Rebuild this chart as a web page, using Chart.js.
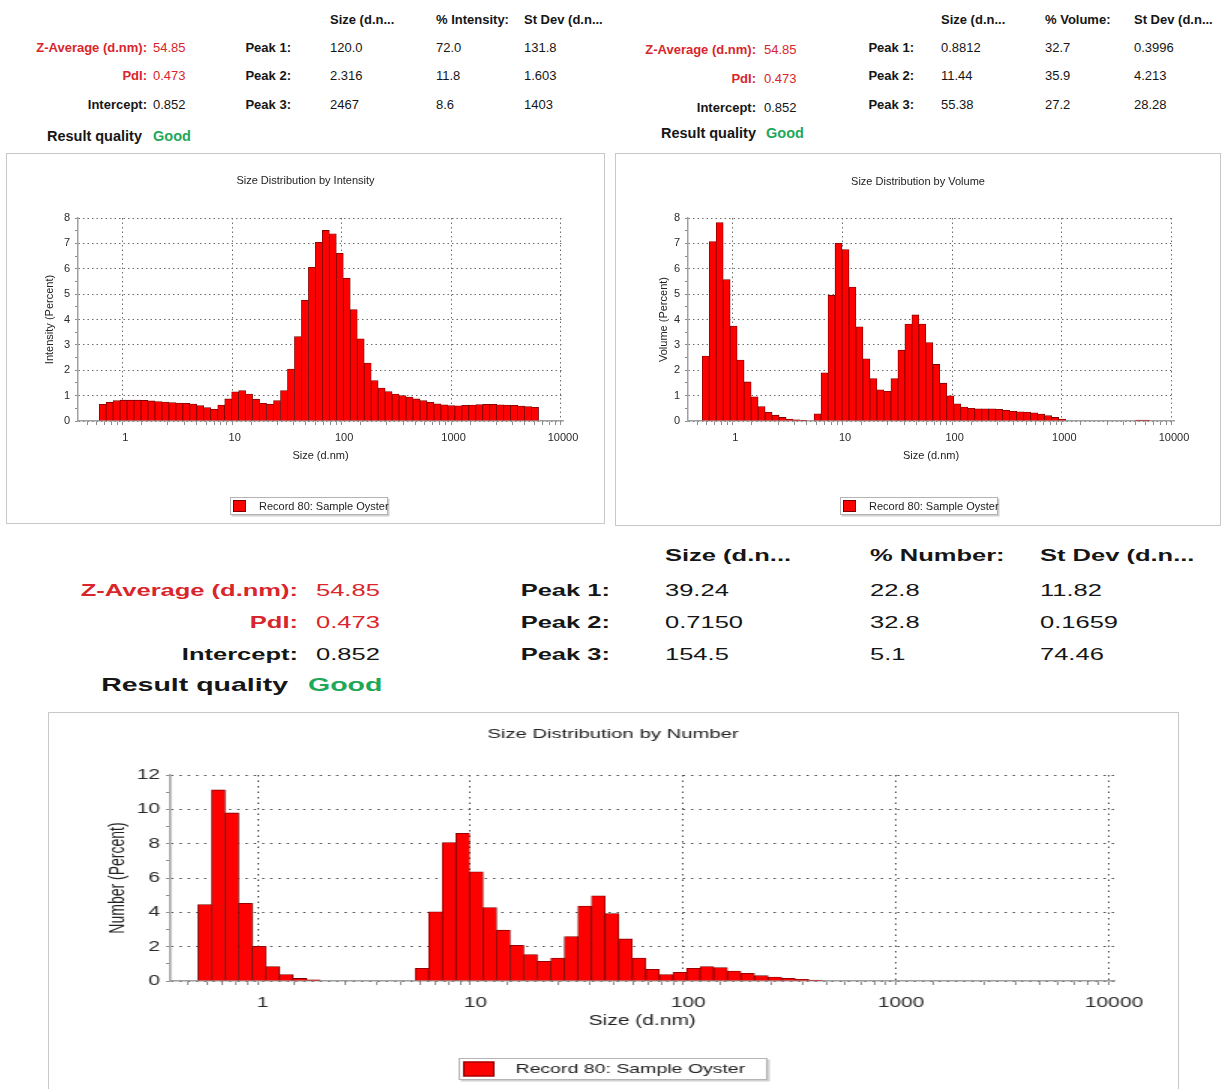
<!DOCTYPE html>
<html>
<head>
<meta charset="utf-8">
<title>Size Distribution – Record 80: Sample Oyster</title>
<script src="https://cdn.jsdelivr.net/npm/chart.js@4.4.1/dist/chart.umd.min.js"></script>
<style>
  html, body { margin: 0; padding: 0; background: #fff; }
  #page { position: relative; width: 1225px; height: 1089px; overflow: hidden;
          font-family: "Liberation Sans", Arial, sans-serif; }
  .t { position: absolute; white-space: nowrap; transform-origin: 0 50%; }
  .panel { position: absolute; border: 1.5px solid #c8c8c8; box-sizing: border-box; background: #fff; }
  .cv { position: absolute; }
</style>
</head>
<body>
<div id="page">
  <div class="panel" style="left:6px;top:153px;width:599px;height:371px;"></div>
  <div class="panel" style="left:615px;top:153px;width:606px;height:373px;"></div>
  <div class="panel" style="left:48px;top:712px;width:1131px;height:378px;"></div>
  <canvas id="chartIntensity" class="cv" width="595" height="366" style="left:8px;top:155px;"></canvas>
  <canvas id="chartVolume" class="cv" width="602" height="368" style="left:617px;top:155px;"></canvas>
  <div id="numberWrap" class="cv" style="left:49px;top:713px;width:752px;height:371px;transform:scaleX(1.5);transform-origin:0 0;">
    <canvas id="chartNumber" width="752" height="371"></canvas>
  </div>
</div>
<script>
// ---- size classes (d.nm) of the 70-channel distribution ----
const sizeClasses = [0.4, 0.4632, 0.5365, 0.6213, 0.7195, 0.8332, 0.9649, 1.117, 1.294, 1.499,
  1.736, 2.01, 2.328, 2.696, 3.122, 3.615, 4.187, 4.849, 5.615, 6.503,
  7.531, 8.721, 10.1, 11.7, 13.54, 15.69, 18.17, 21.04, 24.36, 28.21,
  32.67, 37.84, 43.82, 50.75, 58.77, 68.06, 78.82, 91.28, 105.7, 122.4,
  141.8, 164.2, 190.1, 220.2, 255, 295.3, 342, 396.1, 458.7, 531.2,
  615.1, 712.4, 825, 955.4, 1106, 1281, 1484, 1718, 1990, 2305,
  2669, 3091, 3580, 4145, 4801, 5560, 6439, 7456, 8635, 10000];

// ---- distributions (percent per size class) ----
const intensityPct = [0, 0, 0, 0.66, 0.74, 0.80, 0.82, 0.82, 0.82, 0.81,
  0.79, 0.77, 0.75, 0.73, 0.71, 0.70, 0.67, 0.61, 0.53, 0.46,
  0.63, 0.87, 1.15, 1.20, 1.06, 0.86, 0.70, 0.66, 0.80, 1.20,
  2.05, 3.33, 4.76, 6.06, 7.04, 7.51, 7.38, 6.61, 5.62, 4.39,
  3.24, 2.28, 1.59, 1.30, 1.16, 1.06, 1.00, 0.94, 0.87, 0.80,
  0.74, 0.68, 0.64, 0.61, 0.60, 0.62, 0.63, 0.65, 0.66, 0.66,
  0.64, 0.63, 0.62, 0.59, 0.57, 0.54, 0, 0, 0, 0];

const volumePct = [0, 0, 2.56, 7.07, 7.82, 5.57, 3.74, 2.40, 1.54, 0.95,
  0.57, 0.34, 0.23, 0.14, 0.08, 0.05, 0.03, 0, 0.28, 1.90,
  4.95, 7.00, 6.76, 5.28, 3.71, 2.45, 1.67, 1.23, 1.17, 1.67,
  2.79, 3.82, 4.18, 3.82, 3.09, 2.23, 1.49, 0.99, 0.68, 0.55,
  0.50, 0.48, 0.48, 0.48, 0.46, 0.42, 0.38, 0.36, 0.35, 0.32,
  0.27, 0.21, 0.14, 0.08, 0, 0, 0, 0, 0, 0,
  0, 0, 0, 0, 0.04, 0.04, 0, 0, 0, 0];

const numberPct = [0, 0, 4.45, 11.13, 9.79, 4.53, 2.02, 0.84, 0.37, 0.15,
  0.07, 0, 0, 0, 0, 0, 0, 0, 0.74, 4.03,
  8.07, 8.60, 6.36, 4.28, 2.96, 2.08, 1.54, 1.15, 1.34, 2.59,
  4.36, 4.96, 3.93, 2.45, 1.34, 0.68, 0.37, 0.51, 0.74, 0.84,
  0.78, 0.58, 0.45, 0.31, 0.23, 0.16, 0.10, 0.06, 0, 0,
  0, 0, 0, 0, 0, 0, 0, 0, 0, 0,
  0, 0, 0, 0, 0, 0, 0, 0, 0, 0];

// ---- axis tick labels ----
const sizeTickLabels = [1, 10, 100, 1000, 10000];
const seriesLabel = 'Record 80: Sample Oyster';

// ---- result summary ----
const zAverage = '54.85';
const pdi = '0.473';
const intercept = '0.852';
const resultQuality = 'Good';
const intensityPeaks = [['120.0', '72.0', '131.8'], ['2.316', '11.8', '1.603'], ['2467', '8.6', '1403']];
const volumePeaks = [['0.8812', '32.7', '0.3996'], ['11.44', '35.9', '4.213'], ['55.38', '27.2', '28.28']];
const numberPeaks = [['39.24', '22.8', '11.82'], ['0.7150', '32.8', '0.1659'], ['154.5', '5.1', '74.46']];

// ---------------------------------------------------------------
const RED = '#d8262c', GREEN = '#1fa85a', INK = '#161616';
const FONT = '"Liberation Sans", Arial, sans-serif';
const page = document.getElementById('page');

function put(text, x, y, o) {
  const el = document.createElement('div');
  el.className = 't';
  el.textContent = text;
  el.style.fontSize = o.size + 'px';
  el.style.lineHeight = o.size + 'px';
  el.style.fontWeight = o.bold ? '700' : '400';
  el.style.color = o.color || INK;
  el.style.left = x + 'px';
  el.style.top = (y - o.size * 0.5) + 'px';
  const sx = o.sx || 1;
  el.style.transform = o.align === 'right' ? `scaleX(${sx}) translateX(-100%)` : `scaleX(${sx})`;
  page.appendChild(el);
}

function summary(b) {
  const f = { size: b.size, sx: b.sx };
  put('Size (d.n...', b.cols[0], b.headerY, { ...f, bold: true });
  put(b.pctHeader, b.cols[1], b.headerY, { ...f, bold: true });
  put('St Dev (d.n...', b.cols[2], b.headerY, { ...f, bold: true });
  const left = [['Z-Average (d.nm):', zAverage, RED], ['PdI:', pdi, RED], ['Intercept:', intercept, INK]];
  left.forEach(([lab, val, col], i) => {
    put(lab, b.labelRight, b.leftRows[i], { ...f, bold: true, color: col, align: 'right' });
    put(val, b.valueLeft, b.leftRows[i], { ...f, color: col });
  });
  put('Result quality', b.resultRight, b.resultY, { size: b.resultSize, sx: b.sx, bold: true, align: 'right' });
  put(resultQuality, b.goodLeft, b.resultY, { size: b.resultSize, sx: b.sx, bold: true, color: GREEN });
  b.peaks.forEach((row, i) => {
    put(`Peak ${i + 1}:`, b.peakRight, b.peakRows[i], { ...f, bold: true, align: 'right' });
    row.forEach((v, j) => put(v, b.cols[j], b.peakRows[i], f));
  });
}

summary({ size: 13, resultSize: 14.5, sx: 1, pctHeader: '% Intensity:', peaks: intensityPeaks,
  headerY: 19, leftRows: [47, 75, 104], peakRows: [47, 75, 104], resultY: 136,
  labelRight: 147, valueLeft: 153, resultRight: 142, goodLeft: 153, peakRight: 291, cols: [330, 436, 524] });

summary({ size: 13, resultSize: 14.5, sx: 1, pctHeader: '% Volume:', peaks: volumePeaks,
  headerY: 19, leftRows: [49, 78, 107], peakRows: [47, 75, 104], resultY: 133,
  labelRight: 756, valueLeft: 764, resultRight: 756, goodLeft: 766, peakRight: 914, cols: [941, 1045, 1134] });

summary({ size: 17, resultSize: 19, sx: 1.5, pctHeader: '% Number:', peaks: numberPeaks,
  headerY: 555, leftRows: [590, 622, 654], peakRows: [590, 622, 654], resultY: 684,
  labelRight: 298, valueLeft: 316, resultRight: 288, goodLeft: 308, peakRight: 610, cols: [665, 870, 1040] });

// ---------------------------------------------------------------
Chart.defaults.font.family = FONT;
Chart.defaults.color = '#333';

// chart heading drawn centred across the canvas
const captionPlugin = {
  id: 'caption',
  afterDraw(chart, args, o) {
    const ctx = chart.ctx;
    ctx.save();
    ctx.font = `${o.size}px ${FONT}`;
    ctx.fillStyle = '#222';
    ctx.textAlign = 'center';
    ctx.textBaseline = 'middle';
    ctx.fillText(o.text, chart.width / 2, o.y);
    ctx.restore();
  }
};

// framed legend under the plot
const legendBoxPlugin = {
  id: 'legendBox',
  afterDraw(chart, args, o) {
    const ds = chart.data.datasets[0];
    const ctx = chart.ctx;
    ctx.save();
    ctx.fillStyle = '#d0d0d0';
    ctx.fillRect(o.x + 1.5, o.y + 1.5, o.w, o.h);
    ctx.fillStyle = '#fff';
    ctx.fillRect(o.x, o.y, o.w, o.h);
    ctx.strokeStyle = '#b4b4b4';
    ctx.lineWidth = 1;
    ctx.strokeRect(o.x + 0.5, o.y + 0.5, o.w - 1, o.h - 1);
    const by = o.y + (o.h - o.boxH) / 2;
    ctx.fillStyle = ds.backgroundColor;
    ctx.fillRect(o.boxX, by, o.boxW, o.boxH);
    ctx.strokeStyle = ds.borderColor;
    ctx.strokeRect(o.boxX + 0.5, by + 0.5, o.boxW - 1, o.boxH - 1);
    ctx.font = `${o.size}px ${FONT}`;
    ctx.fillStyle = '#222';
    ctx.textAlign = 'left';
    ctx.textBaseline = 'middle';
    ctx.fillText(ds.label, o.textX, o.y + o.h / 2 + 0.5);
    ctx.restore();
  }
};

// 1..9 x decade positions for the log axis tick marks
function logTickPositions(min, max) {
  const out = [];
  for (let e = -1; e <= 4; e++) {
    for (let m = 1; m <= 9; m++) {
      const v = +(m * Math.pow(10, e)).toPrecision(6);
      if (v >= min && v <= max) out.push(v);
    }
  }
  return out;
}

function histogram(id, values, c) {
  const xMin = 0.37, xMax = 10000;
  const xTicks = logTickPositions(xMin, xMax);
  const yTicks = [];
  for (let v = 0; v <= c.yMax + 1e-9; v += c.yMinor) yTicks.push(+v.toFixed(3));
  const isDecade = (v) => sizeTickLabels.includes(v);
  const isMajorY = (v) => Math.abs(v / c.yMajor - Math.round(v / c.yMajor)) < 1e-6;

  return new Chart(document.getElementById(id), {
    type: 'bar',
    data: {
      datasets: [{
        label: seriesLabel,
        data: sizeClasses.map((s, i) => ({ x: s, y: values[i] })),
        backgroundColor: '#ff0000',
        borderColor: '#7a0000',
        borderWidth: c.barBorder,
        borderSkipped: 'start',
        barThickness: 'flex',
        categoryPercentage: 1,
        barPercentage: 1
      }]
    },
    options: {
      responsive: false,
      animation: false,
      events: [],
      layout: { padding: c.padding },
      plugins: {
        legend: { display: false },
        tooltip: { enabled: false },
        caption: { text: c.title, y: c.titleY, size: c.titleSize },
        legendBox: c.legend
      },
      scales: {
        x: {
          type: 'logarithmic',
          min: xMin,
          max: xMax,
          afterBuildTicks: (scale) => { scale.ticks = xTicks.map((v) => ({ value: v })); },
          afterFit: (scale) => { scale.height = c.xAxisHeight; },
          ticks: {
            autoSkip: false, maxRotation: 0, minRotation: 0,
            padding: c.xTickPad, color: '#2a2a2a', font: { size: c.tickSize },
            callback: (v) => (isDecade(v) ? String(v) : '')
          },
          grid: {
            color: (ctx) => (ctx.tick && isDecade(ctx.tick.value) ? c.gridColor : 'rgba(0,0,0,0)'),
            tickColor: '#8c8c8c', tickLength: 4, lineWidth: 1
          },
          border: { display: true, color: '#a0a0a0', width: 1.5, dash: c.dash },
          title: { display: true, text: 'Size (d.nm)', color: '#222', font: { size: c.axisTitleSize }, padding: 0 }
        },
        y: {
          type: 'linear',
          min: 0,
          max: c.yMax,
          afterBuildTicks: (scale) => { scale.ticks = yTicks.map((v) => ({ value: v })); },
          afterFit: (scale) => { scale.width = c.yAxisWidth; },
          ticks: {
            autoSkip: false, padding: c.yTickPad, color: '#2a2a2a', font: { size: c.tickSize },
            callback: (v) => (isMajorY(v) ? String(Math.round(v)) : '')
          },
          grid: {
            color: (ctx) => (ctx.tick && isMajorY(ctx.tick.value) ? c.gridColor : 'rgba(0,0,0,0)'),
            tickColor: '#8c8c8c', tickLength: 3, lineWidth: 1
          },
          border: { display: true, color: '#a0a0a0', width: 1.5, dash: c.dash },
          title: { display: true, text: c.yTitle, color: '#222', font: { size: c.axisTitleSize },
                   padding: { top: c.yTitlePad, bottom: 0 } }
        }
      }
    },
    plugins: [captionPlugin, legendBoxPlugin]
  });
}

histogram('chartIntensity', intensityPct, {
  title: 'Size Distribution by Intensity', titleY: 26, titleSize: 11,
  yTitle: 'Intensity (Percent)', yMax: 8, yMajor: 1, yMinor: 0.5,
  padding: { left: 0, right: 40, top: 63, bottom: 58 },
  yAxisWidth: 70, xAxisHeight: 42, xTickPad: 6, yTickPad: 5, yTitlePad: 35,
  tickSize: 11, axisTitleSize: 11, barBorder: 0.8, gridColor: '#6e6e6e', dash: [1.5, 3],
  legend: { x: 222, y: 342, w: 158, h: 18, boxX: 225, boxW: 13, boxH: 12, textX: 251, size: 11 }
});

histogram('chartVolume', volumePct, {
  title: 'Size Distribution by Volume', titleY: 27, titleSize: 11,
  yTitle: 'Volume (Percent)', yMax: 8, yMajor: 1, yMinor: 0.5,
  padding: { left: 0, right: 45, top: 63, bottom: 60 },
  yAxisWidth: 71, xAxisHeight: 42, xTickPad: 6, yTickPad: 5, yTitlePad: 40,
  tickSize: 11, axisTitleSize: 11, barBorder: 0.8, gridColor: '#6e6e6e', dash: [1.5, 3],
  legend: { x: 223, y: 342, w: 158, h: 18, boxX: 226, boxW: 13, boxH: 12, textX: 252, size: 11 }
});

histogram('chartNumber', numberPct, {
  title: 'Size Distribution by Number', titleY: 21, titleSize: 13.5,
  yTitle: 'Number (Percent)', yMax: 12, yMajor: 2, yMinor: 1,
  padding: { left: 0, right: 42, top: 62, bottom: 54 },
  yAxisWidth: 81, xAxisHeight: 49, xTickPad: 10, yTickPad: 4, yTitlePad: 38,
  tickSize: 14, axisTitleSize: 14, barBorder: 0.8, gridColor: '#4a4a4a', dash: [1.5, 4],
  legend: { x: 273, y: 345, w: 206, h: 22, boxX: 276, boxW: 21, boxH: 15, textX: 311, size: 13 }
});
</script>
</body>
</html>
